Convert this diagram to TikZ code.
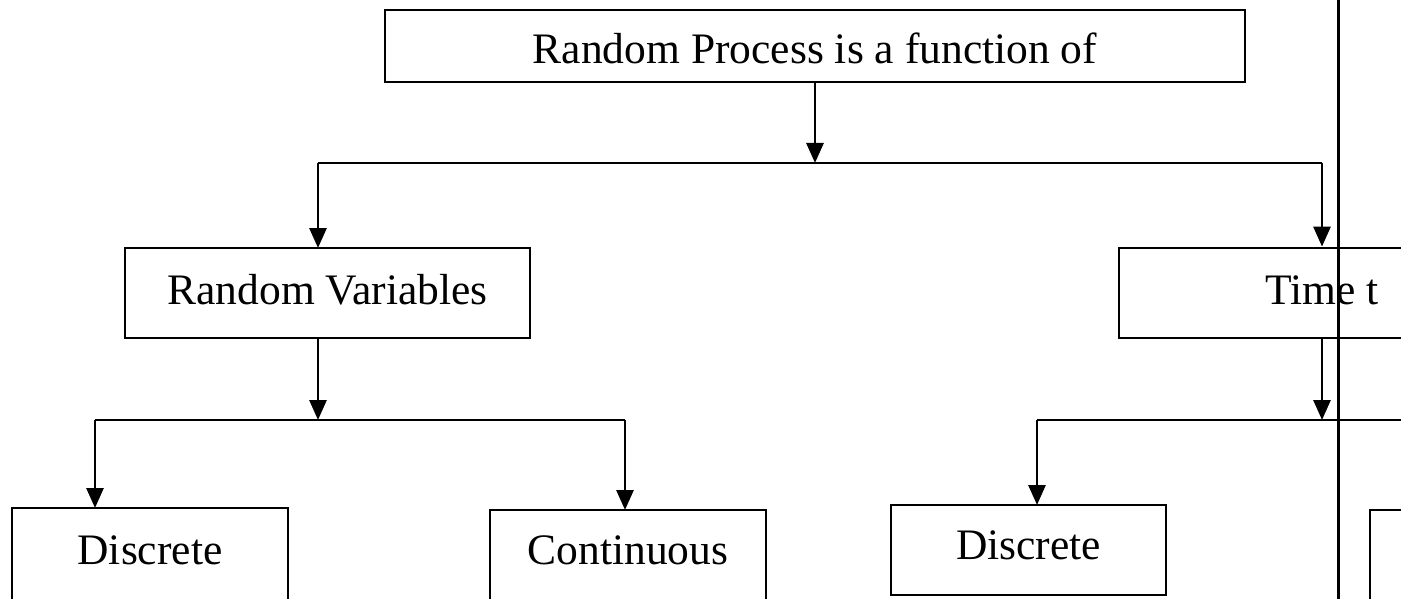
\documentclass[tikz,border=0pt]{standalone}
\usepackage{fontspec}
\setmainfont{Liberation Serif}
\usetikzlibrary{arrows.meta}
\begin{document}
\begin{tikzpicture}[x=1pt,y=-1pt,
  box/.style={draw=black,line width=2.8pt,rectangle,inner sep=0pt,font=\fontsize{43.5}{48}\selectfont},
  lbl/.style={font=\fontsize{43.5}{48}\selectfont},
  link/.style={draw=black,line width=2.8pt},
  arr/.style={link,-{Triangle[length=20pt,width=17pt]}}]
\useasboundingbox (0,0) rectangle (1401,599);
\clip (0,0) rectangle (1401,599);
\fill[white] (0,0) rectangle (1401,599);
% nodes
\node[box,minimum width=860pt,minimum height=72pt] (top) at (815,46) {};
\node[lbl] (topt) at (815,48) {Random Process is a function of};
\node[box,minimum width=405pt,minimum height=90pt] (rv) at (327.5,293) {};
\node[lbl] (rvt) at (327.5,290) {Random Variables};
\node[box,minimum width=406pt,minimum height=90pt] (tt) at (1322,293) {};
\node[lbl] (ttt) at (1322,290) {Time t};
\node[box,minimum width=276pt,minimum height=96pt] (d1) at (150,556) {};
\node[lbl] (d1t) at (150,550) {Discrete};
\node[box,minimum width=276pt,minimum height=96pt] (c1) at (628,558) {};
\node[lbl] (c1t) at (628,550) {Continuous};
\node[box,minimum width=275pt,minimum height=90pt] (d2) at (1028.5,550) {};
\node[lbl] (d2t) at (1028.5,545) {Discrete};
\node[box,minimum width=276pt,minimum height=96pt] (c2) at (1508,558) {};
% junction points
\coordinate (j1) at (815,163);
\coordinate (j2) at (318,420);
\coordinate (j3) at (1322,420);
% top level
\draw[arr] (top.south) -- (j1);
\draw[link] (318,163) -- (1322,163);
\draw[arr] (318,163) -- (318,248);
\draw[arr] (tt.north |- j1) -- (tt.north);
% random variables
\draw[arr] (318,338) -- (j2);
\draw[link] (95,420) -- (625,420);
\draw[arr] (95,420) -- (95,508);
\draw[arr] (625,420) -- (625,510);
% time t
\draw[arr] (tt.south) -- (j3);
\draw[link] (1037,420) -- (1508,420);
\draw[arr] (1037,420) -- (1037,505);
% separator line
\draw[black,line width=3pt] (1338,0) -- (1338,599);
\end{tikzpicture}
\end{document}
